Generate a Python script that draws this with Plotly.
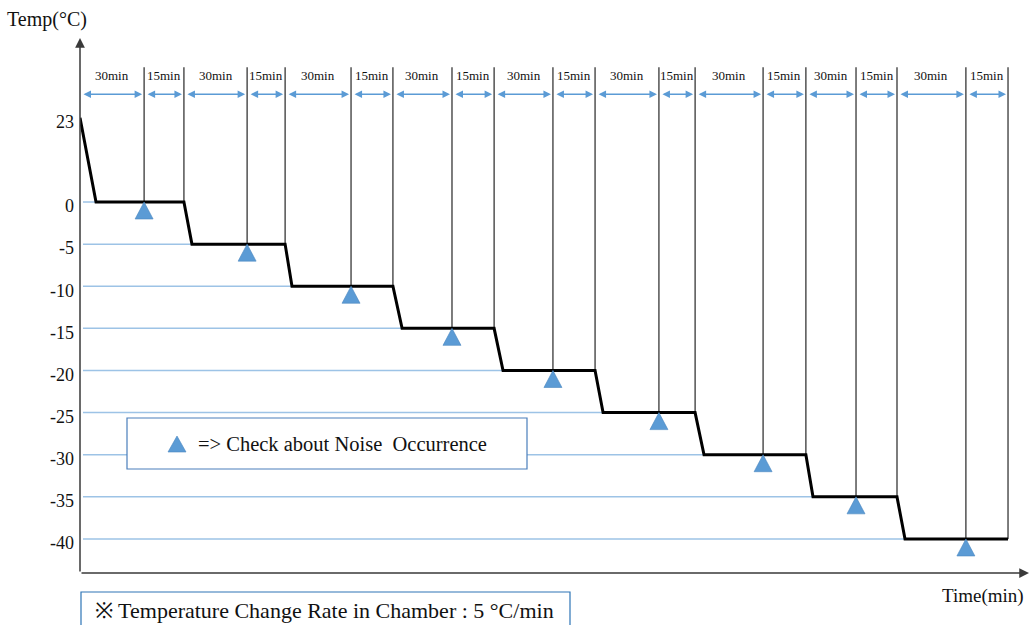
import plotly.graph_objects as go

# ---- data -------------------------------------------------------------
start_temp = 23                                   # °C at t = 0
levels = [0, -5, -10, -15, -20, -25, -30, -35, -40]  # hold temperatures (°C)
hold_start = [7.0, 48.9, 92.6, 140.7, 184.8, 228.5, 272.6, 320.2, 360.4]   # min
check_time = [28.0, 73.0, 118.4, 162.5, 206.6, 252.9, 298.4, 339.0, 387.0]  # min
hold_end = [45.4, 89.6, 136.7, 180.9, 225.0, 268.7, 317.1, 356.9, 405.4]    # min
span_labels = ["30min", "15min"]
y_ticks = [23, 0, -5, -10, -15, -20, -25, -30, -35, -40]

# ---- layout constants -------------------------------------------------
W, H = 1030, 625
ML, MT, MB = 80, 38, 52
PW, PH = W - ML, H - MT - MB
X_RANGE = [0, 415]
Y_RANGE = [-44.04, 19.47]

SERIF = "Liberation Serif, Times New Roman, serif"
BLUE = "#5B9BD5"
GRID = "#9DC3E6"
AXIS = "#3a3a3a"

ABOVE_ZERO = 10 / 23      # the span above 0 °C is drawn compressed


def ty(v):
    return v * ABOVE_ZERO if v > 0 else v


def px_x(px):
    return (px - ML) / PW


def px_y(py):
    return (MT + PH - py) / PH


TOP_Y = 16.0       # top of the vertical time markers
ARROW_Y = 12.8     # row of duration arrows
LABEL_Y = 15.0     # row of duration labels
GRID_X0 = 1.3

fig = go.Figure()

# light-blue guide lines from the axis to each hold level
gx, gy = [], []
for t0, lvl in zip(hold_start, levels):
    gx += [GRID_X0, t0, None]
    gy += [lvl, lvl, None]
fig.add_trace(go.Scatter(x=gx, y=gy, mode="lines",
                         line=dict(color=GRID, width=1.5), hoverinfo="skip"))

# vertical time markers (30 min check point and end of each step)
vx, vy = [], []
for tc, te, lvl in zip(check_time, hold_end, levels):
    vx += [tc, tc, None, te, te, None]
    vy += [lvl, TOP_Y, None, lvl, TOP_Y, None]
fig.add_trace(go.Scatter(x=vx, y=vy, mode="lines",
                         line=dict(color="#262626", width=1.2), hoverinfo="skip"))

# chamber temperature profile
px_, py_ = [0], [ty(start_temp)]
for t0, t1, lvl in zip(hold_start, hold_end, levels):
    px_ += [t0, t1]
    py_ += [lvl, lvl]
fig.add_trace(go.Scatter(x=px_, y=py_, mode="lines",
                         line=dict(color="black", width=3), hoverinfo="skip"))

annotations = []
shapes = []

# duration arrows and labels
bounds = [0]
for tc, te in zip(check_time, hold_end):
    bounds += [tc, te]
for j in range(len(bounds) - 1):
    b0, b1 = bounds[j], bounds[j + 1]
    annotations.append(dict(
        x=b1, y=ARROW_Y, ax=b0, ay=ARROW_Y, xref="x", yref="y",
        axref="x", ayref="y", text="", showarrow=True,
        arrowhead=2, startarrowhead=2, arrowside="end+start",
        arrowsize=1, startarrowsize=1, arrowwidth=1.5, arrowcolor=BLUE,
        standoff=2, startstandoff=2))
    annotations.append(dict(
        x=(b0 + b1) / 2, y=LABEL_Y, xref="x", yref="y",
        xanchor="center", yanchor="middle",
        text=span_labels[j % 2], showarrow=False,
        font=dict(family=SERIF, size=13, color="#111")))

# noise check markers
for tc, lvl in zip(check_time, levels):
    shapes.append(dict(
        type="path", xref="x", yref="y", xsizemode="pixel", ysizemode="pixel",
        xanchor=tc, yanchor=lvl, path="M 0 0 L 9 -17 L -9 -17 Z",
        fillcolor=BLUE, line=dict(color="#4A86C0", width=0.6), layer="above"))

# axes drawn as arrows
annotations.append(dict(x=0, y=1, xref="paper", yref="paper", ax=0, ay=PH,
                        text="", showarrow=True, arrowhead=2, arrowsize=1.3,
                        arrowwidth=1.5, arrowcolor=AXIS, standoff=0))
annotations.append(dict(x=1, y=0, xref="paper", yref="paper", ax=-PW, ay=0,
                        text="", showarrow=True, arrowhead=2, arrowsize=1.3,
                        arrowwidth=1.5, arrowcolor=AXIS, standoff=0))


def label(px, py, text, size, anchor="center"):
    annotations.append(dict(x=px_x(px), y=px_y(py), xref="paper", yref="paper",
                            xanchor=anchor, yanchor="middle", text=text,
                            showarrow=False,
                            font=dict(family=SERIF, size=size, color="#111")))


# axis titles
label(47, 19, "Temp(°C)", 20)
label(983, 596, "Time(min)", 19)

# legend box
shapes.append(dict(type="rect", xref="paper", yref="paper",
                   x0=px_x(127), x1=px_x(527), y0=px_y(469), y1=px_y(418),
                   fillcolor="white", line=dict(color="#4A7EBB", width=1.2),
                   layer="above"))
shapes.append(dict(type="path", xref="paper", yref="paper",
                   xsizemode="pixel", ysizemode="pixel",
                   xanchor=px_x(177), yanchor=px_y(436),
                   path="M 0 0 L 9 -16 L -9 -16 Z",
                   fillcolor=BLUE, line=dict(color="#4A86C0", width=0.6),
                   layer="above"))
label(196, 444, "=> Check about Noise  Occurrence", 20.5, "left")

# note box below the chart
shapes.append(dict(type="rect", xref="paper", yref="paper",
                   x0=px_x(81), x1=px_x(570), y0=px_y(630), y1=px_y(592),
                   fillcolor="white", line=dict(color="#2E75B6", width=1.2),
                   layer="above"))
label(93, 610, "※ Temperature Change Rate in Chamber : 5 °C/min", 22, "left")

fig.update_layout(
    width=W, height=H,
    margin=dict(l=ML, r=W - ML - PW, t=MT, b=MB, pad=0),
    paper_bgcolor="white", plot_bgcolor="white",
    showlegend=False,
    shapes=shapes, annotations=annotations,
    xaxis=dict(range=X_RANGE, showgrid=False, zeroline=False, showline=False,
               showticklabels=False, ticks=""),
    yaxis=dict(range=Y_RANGE, showgrid=False, zeroline=False, showline=False,
               ticks="", tickvals=[ty(v) for v in y_ticks],
               ticktext=[str(v) for v in y_ticks],
               ticklabelstandoff=5, ticklabelshift=4,
               tickfont=dict(family=SERIF, size=18, color="#111")),
)

fig.write_html("out.html")
